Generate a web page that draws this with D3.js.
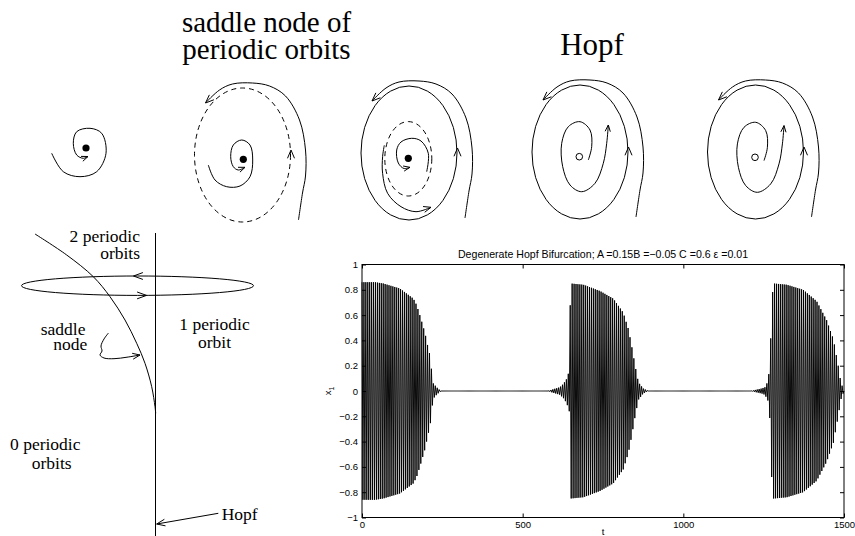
<!DOCTYPE html>
<html><head><meta charset="utf-8">
<script src="https://cdn.jsdelivr.net/npm/d3@7"></script>
<style>body{margin:0;background:#fff}svg{display:block}</style>
</head><body>
<svg id="c" width="855" height="536"></svg>
<script>
// ---------- time series x1(t): envelope knots ----------
const envT = [0, 40, 66, 118, 160, 170, 180, 196, 206, 212, 217, 222, 232, 245,
              580, 590, 616, 627, 637, 645, 649, 689, 741, 782, 813, 829, 839, 850, 860, 875, 891,
              1210, 1218, 1244, 1254, 1264, 1270, 1275, 1280, 1322, 1373, 1415, 1446, 1467, 1482, 1490, 1500];
const envA = [0.86, 0.86, 0.85, 0.81, 0.73, 0.68, 0.60, 0.46, 0.34, 0.28, 0.15, 0.06, 0.03, 0,
              0, 0.01, 0.03, 0.057, 0.096, 0.16, 0.85, 0.84, 0.79, 0.73, 0.62, 0.49, 0.36, 0.20, 0.07, 0.02, 0,
              0, 0.005, 0.02, 0.03, 0.08, 0.24, 0.68, 0.85, 0.84, 0.80, 0.71, 0.56, 0.41, 0.20, 0.07, 0];
const oscPeriod = 6.0;               // time between successive maxima
const xTicks = [0, 500, 1000, 1500];
const yTicks = [-1, -0.8, -0.6, -0.4, -0.2, 0, 0.2, 0.4, 0.6, 0.8, 1];
const plotTitle = "Degenerate Hopf Bifurcation;  A =0.15B =\u22120.05 C =0.6 \u03b5 =0.01";

// ---------- schematic drawings ----------
const headTitle1 = ["saddle node of", "periodic orbits"];
const headTitle2 = "Hopf";
const spiralP1 = [[-34.3,5.3],[-22.7,23.7],[-6,28.7],[10.7,23.7],[20,5.3],[15.7,-14.7],[4,-19.7],[-9.3,-16.3],[-12.7,-4.7],[-9.3,7],[-2.7,10.3],[2,8.5]];
const spiralP2 = [[-35,5.7],[-28.3,20.7],[-16.6,27.4],[-3.3,26.7],[6.7,17.4],[9.4,0.7],[6.7,-14.3],[-1.6,-19.3],[-10,-14.3],[-12.6,-2.6],[-10,7.4],[-5,10.7],[1.7,8]];
const spiralP3 = [[18.4,13.4],[20,-5],[12.7,-17.3],[3.4,-20],[-7.3,-16.3],[-11.6,-8.3],[-10,4.7],[-4.3,10.2],[1.7,9]];
const spiralP4 = [[9,3.3],[12.4,-10],[10.7,-26.7],[0.7,-35],[-11,-30],[-17.6,-13.4],[-16.6,10],[-9.3,28.3],[2.4,35],[15.7,26.6],[24,6.6],[27.4,-13.4],[29,-31.7]];
const midP3 = [[-24,-13],[-25.7,-1.6],[-25.7,15],[-20.7,35],[-7.3,48.4],[7.7,53.4],[22.7,49]];
const outerArc = [[56,65],[60,38],[63,21],[63,-5],[57,-35],[43,-59],[27,-69],[10,-72],[-10,-71],[-23,-65],[-37,-52]];
const cycleR = [48, 67];
const portraits = [
  {eq:[86,148],   filled:true,  spiral:spiralP1},
  {eq:[243.3,159.3], filled:true, spiral:spiralP2, cyc:[242.5,155], dashed:true, outer:true},
  {eq:[408.3,158.3], filled:true, spiral:spiralP3, cyc:[409,153], inner:[408.3,158.8,23.5,37.2], mid:midP3, outer:true},
  {eq:[579.3,156.7], filled:false, spiral:spiralP4, cyc:[580,152], outer:true},
  {eq:[755,157.3],   filled:false, spiral:spiralP4, cyc:[755.5,152], outer:true}
];
const snCurve = [[35,234],[66.7,255],[93.3,276.7],[110,296.7],[125,320],[136.7,343.3],[145,363.3],[151.7,386.7],[155,406.7],[155.7,413.3]];
const squiggle = [[108.5,333],[104,339],[101,346],[102,351],[100,355],[104,358],[114,358.7],[127,357.2],[140,355]];
const hopfArrow = [[218.3,513.3],[156.7,524]];
// multi-line labels: lines, x per line, baseline of first line, line step, anchor
const diagLabels = [
  {t:["2 periodic","orbits"], x:[140,140], y:241.5, dy:17.5, a:"end"},
  {t:["saddle","node"], x:[40.7,53.3], y:335, dy:14.5, a:"start"},
  {t:["1 periodic","orbit"], x:[214.5,214.5], y:330, dy:18.3, a:"middle"},
  {t:["0 periodic","orbits"], x:[10,31.7], y:450, dy:19.3, a:"start"},
  {t:["Hopf"], x:[221.7], y:520, dy:0, a:"start"}
];

const serif = '"Liberation Serif"';
const sans = '"Liberation Sans"';

const svg = d3.select("#c");
svg.append("rect").attr("width",855).attr("height",536).attr("fill","#fff");

function chevron(g, tip, ang, len=8, spread=0.38, w=1){
  const a1 = ang + Math.PI - spread, a2 = ang + Math.PI + spread;
  g.append("path").attr("fill","none").attr("stroke","#000").attr("stroke-width",w)
   .attr("d", `M${tip[0]+len*Math.cos(a1)},${tip[1]+len*Math.sin(a1)}L${tip[0]},${tip[1]}L${tip[0]+len*Math.cos(a2)},${tip[1]+len*Math.sin(a2)}`);
}
const curve = d3.line().curve(d3.curveCatmullRom.alpha(0.5));
function pathWithArrow(g, pts, opts={}){
  g.append("path").attr("d",curve(pts)).attr("fill","none").attr("stroke","#000")
   .attr("stroke-width",opts.w||1);
  const n=pts.length, p=pts[n-1], q=pts[n-2];
  chevron(g, p, Math.atan2(p[1]-q[1], p[0]-q[0]), opts.len||8);
}
function stext(g, str, x, y, size, anchor, fam){
  return g.append("text").attr("x",x).attr("y",y).attr("text-anchor",anchor)
    .style("font-family",fam).style("font-size",size+"px").attr("fill","#000").text(str);
}
function mtext(g, lines, xs, y, dy, size, anchor, fam){
  const t = g.append("text").attr("y",y).attr("text-anchor",anchor)
    .style("font-family",fam).style("font-size",size+"px").attr("fill","#000");
  lines.forEach((s,i)=> t.append("tspan").attr("x",xs[i]).attr("dy", i===0?0:dy).text(s));
  return t;
}

// ---------- top titles ----------
mtext(svg, headTitle1, [266.5,266.5], 32, 27, 29, "middle", serif);
stext(svg, headTitle2, 592, 55, 31, "middle", serif);

// ---------- phase portraits ----------
const pg = svg.append("g");
portraits.forEach(p=>{
  if(p.cyc){
    pg.append("ellipse").attr("cx",p.cyc[0]).attr("cy",p.cyc[1]).attr("rx",cycleR[0]).attr("ry",cycleR[1])
      .attr("fill","none").attr("stroke","#000").attr("stroke-width",1)
      .attr("stroke-dasharray",p.dashed?"5,4":null);
    chevron(pg,[p.cyc[0]+cycleR[0]+0.5,p.cyc[1]-5],-Math.PI/2,9,0.4);
  }
  if(p.inner){
    pg.append("ellipse").attr("cx",p.inner[0]).attr("cy",p.inner[1]).attr("rx",p.inner[2]).attr("ry",p.inner[3])
      .attr("fill","none").attr("stroke","#000").attr("stroke-dasharray","5,4");
  }
  if(p.outer) pathWithArrow(pg, outerArc.map(d=>[p.cyc[0]+d[0],p.cyc[1]+d[1]]), {len:9});
  if(p.mid) pathWithArrow(pg, p.mid.map(d=>[p.eq[0]+d[0],p.eq[1]+d[1]]));
  pathWithArrow(pg, p.spiral.map(d=>[p.eq[0]+d[0],p.eq[1]+d[1]]), {len:7});
  pg.append("circle").attr("cx",p.eq[0]).attr("cy",p.eq[1]).attr("r",p.filled?3.6:3.3)
    .attr("fill",p.filled?"#000":"#fff").attr("stroke","#000").attr("stroke-width",p.filled?0:1);
});

// ---------- bifurcation diagram ----------
const bg = svg.append("g");
bg.append("line").attr("x1",155.5).attr("x2",155.5).attr("y1",233).attr("y2",536).attr("stroke","#000");
bg.append("path").attr("d",curve(snCurve)).attr("fill","none").attr("stroke","#000");
bg.append("ellipse").attr("cx",137.5).attr("cy",285.7).attr("rx",116).attr("ry",9.7)
  .attr("fill","none").attr("stroke","#000");
chevron(bg,[133.5,276],Math.PI,10,0.35);
chevron(bg,[146.5,295.4],0,10,0.35);
pathWithArrow(bg, squiggle, {len:8});
pathWithArrow(bg, hopfArrow, {len:9});
diagLabels.forEach(l=> mtext(bg, l.t, l.x, l.y, l.dy, 17.5, l.a, serif));

// ---------- time series plot ----------
const x = d3.scaleLinear().domain([0,1500]).range([362,844]);
const y = d3.scaleLinear().domain([-1,1]).range([517.5,264.5]);
const env = d3.scaleLinear().domain(envT).range(envA).clamp(true);
const pts = [];
for(let k=0, t=0; t<=1500; k++, t=k*oscPeriod/2){
  pts.push([t, (k%2===0?1:-1)*env(t)]);
}
const plot = svg.append("g");
plot.append("path").datum(pts).attr("fill","none").attr("stroke","#000").attr("stroke-width",0.95)
  .attr("d", d3.line().x(d=>x(d[0])).y(d=>y(d[1])));
plot.append("rect").attr("x",x(0)).attr("y",y(1)).attr("width",x(1500)-x(0)).attr("height",y(-1)-y(1))
  .attr("fill","none").attr("stroke","#000").attr("stroke-width",1);
const fmt = d => d===0 ? "0" : (d<0?"\u2212":"") + String(Math.abs(d));
const axB = plot.append("g").attr("transform",`translate(0,${y(-1)})`)
  .call(d3.axisBottom(x).tickValues(xTicks).tickSize(-4).tickSizeOuter(0).tickPadding(4).tickFormat(d=>String(d)));
const axT = plot.append("g").attr("transform",`translate(0,${y(1)})`)
  .call(d3.axisTop(x).tickValues(xTicks).tickSize(-4).tickSizeOuter(0).tickFormat(""));
const axL = plot.append("g").attr("transform",`translate(${x(0)},0)`)
  .call(d3.axisLeft(y).tickValues(yTicks).tickSize(-4).tickSizeOuter(0).tickPadding(4).tickFormat(fmt));
const axR = plot.append("g").attr("transform",`translate(${x(1500)},0)`)
  .call(d3.axisRight(y).tickValues(yTicks).tickSize(-4).tickSizeOuter(0).tickFormat(""));
[axB,axT,axL,axR].forEach(a=>{
  a.select(".domain").remove();
  a.attr("font-family",null);
  a.selectAll("text").style("font-family",sans).style("font-size","9.5px").attr("fill","#000");
  a.selectAll("line").attr("stroke","#000");
});
stext(plot, plotTitle, (x(0)+x(1500))/2, 258, 10.6, "middle", sans);
stext(plot, "t", (x(0)+x(1500))/2, 535, 9.5, "middle", sans);
const yl = plot.append("text").attr("transform",`translate(331,${y(0)}) rotate(-90)`).attr("text-anchor","middle")
  .style("font-family",sans).style("font-size","9.5px");
yl.append("tspan").text("x");
yl.append("tspan").attr("dy",3).style("font-size","7px").text("1");
</script>
</body></html>
